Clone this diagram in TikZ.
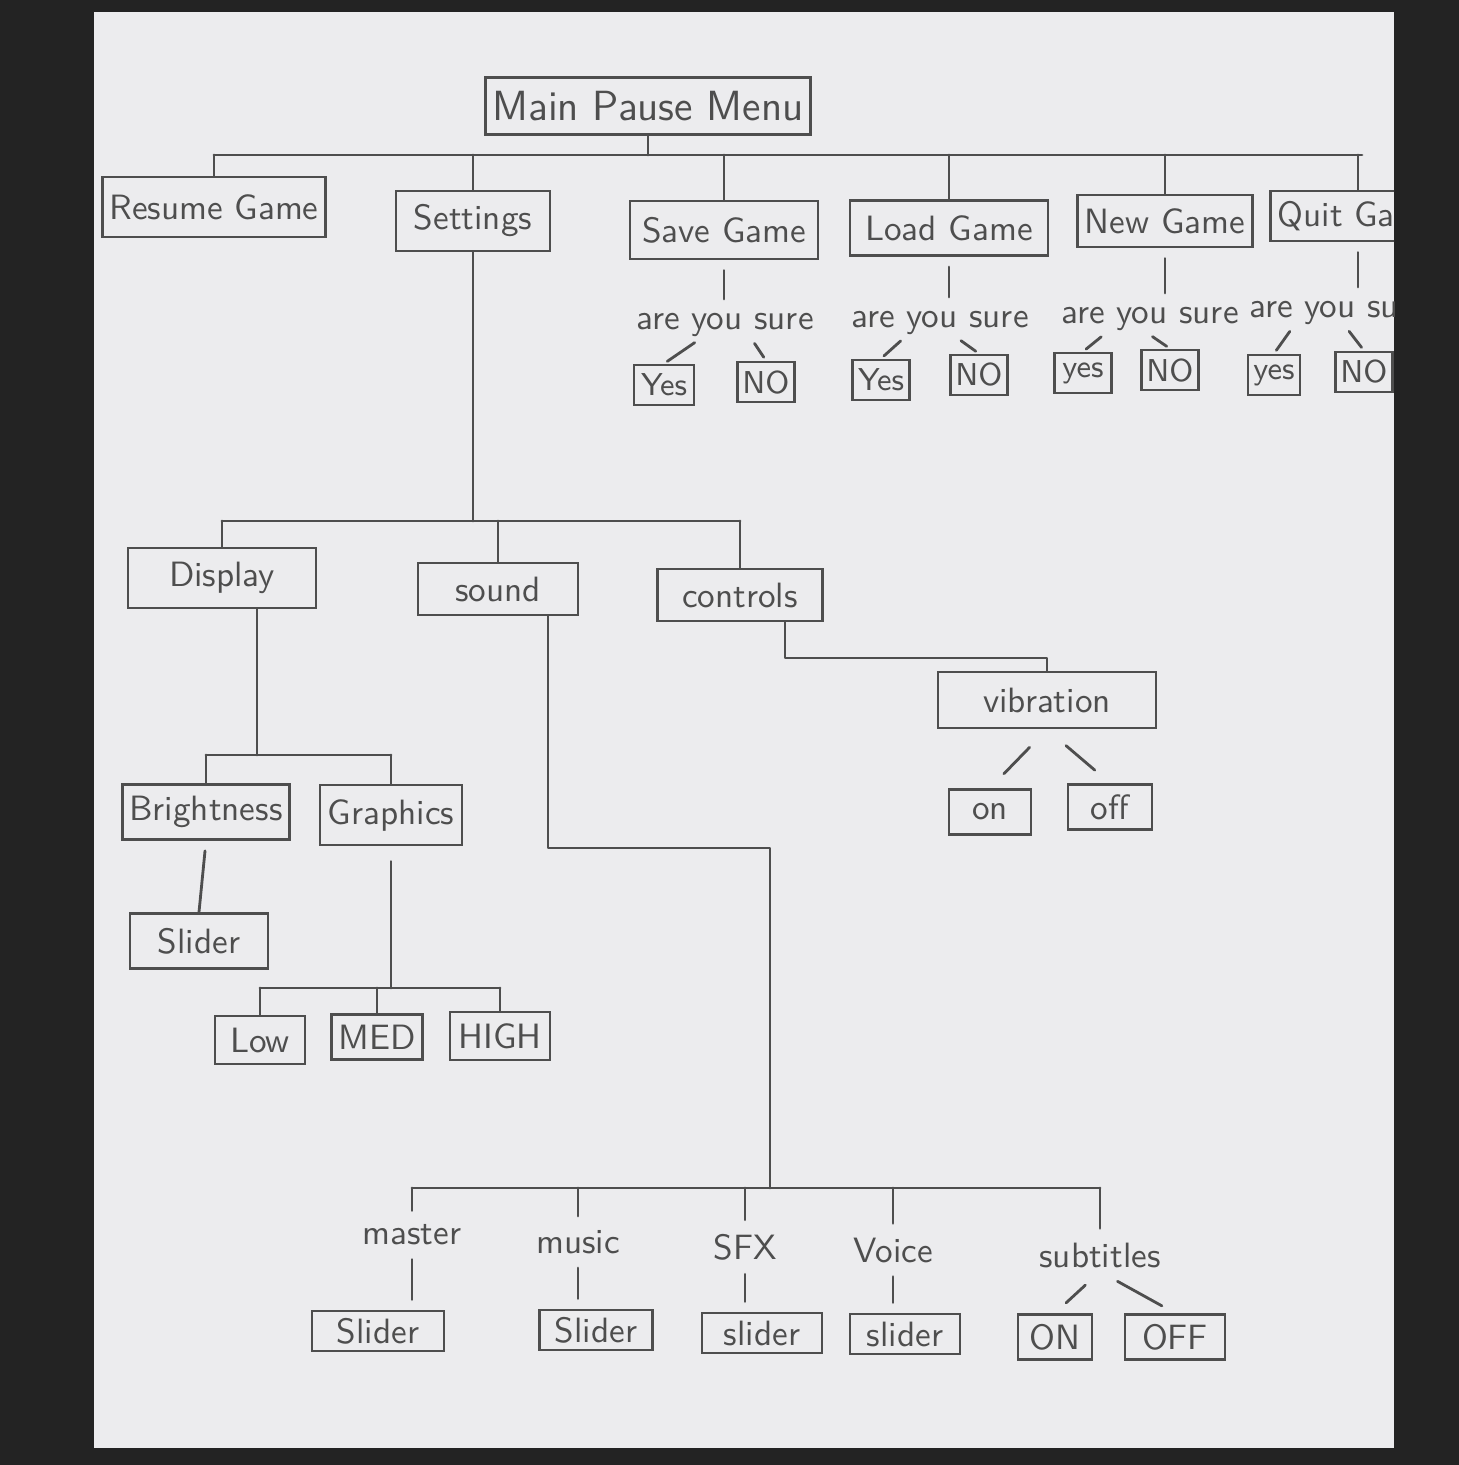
\documentclass[tikz,border=0pt]{standalone}
\usepackage{tikz}
\usetikzlibrary{calc}
\definecolor{pencil}{HTML}{4E4E4E}
\definecolor{paper}{HTML}{ECECEE}
\definecolor{desk}{HTML}{232323}

\begin{document}
\begin{tikzpicture}[
    x=0.01cm, y=-0.01cm,
    menuwire/.style={draw=pencil, line width=0.8pt, line cap=round, line join=round},
    wiregap/.style={shorten <=0.1cm, shorten >=0.1cm},
    slashgap/.style={shorten <=0.03cm, shorten >=0.04cm},
    menubox/.style={draw=pencil, line width=0.8pt, text=pencil, inner sep=2pt, font=\sffamily\fontsize{10}{12}\selectfont},
    confirmbox/.style={menubox, inner sep=1.5pt, minimum height=0.4cm, font=\sffamily\fontsize{9}{11}\selectfont},
    menulabel/.style={text=pencil, inner sep=1pt, font=\sffamily\fontsize{10}{12}\selectfont}
]
  \fill[desk] (0,0) rectangle (1459,1465);
  \fill[paper] (94,12) rectangle (1394,1448);
  \begin{scope}
  \clip (94,12) rectangle (1394,1448);

  % top level
  \node[menubox, font=\sffamily\fontsize{12}{14}\selectfont, minimum width=3.15cm, minimum height=0.57cm] (mainmenu) at (648,106) {Main Pause Menu};
  \node[menubox, minimum width=2.12cm, minimum height=0.6cm] (resume) at (214,207) {Resume Game};
  \node[menubox, minimum width=1.54cm, minimum height=0.6cm] (settings) at (473,221) {Settings};
  \node[menubox, minimum width=1.88cm, minimum height=0.58cm] (savegame) at (724,230) {Save Game};
  \node[menubox, minimum width=1.98cm, minimum height=0.55cm] (loadgame) at (949,228) {Load Game};
  \node[menubox, minimum width=1.70cm, minimum height=0.52cm] (newgame) at (1165,221) {New Game};
  \node[menubox, minimum width=1.50cm, minimum height=0.5cm] (quitgame) at (1358,216) {Quit Game};

  \coordinate (topbus) at (0,155);
  \coordinate (topbusend) at (1362,155);
  \draw[menuwire] (mainmenu.south) -- (mainmenu.south |- topbus);
  \draw[menuwire] (resume.north |- topbus) -- (topbusend);
  \draw[menuwire] (resume.north) -- (resume.north |- topbus);
  \draw[menuwire] (settings.north) -- (settings.north |- topbus);
  \draw[menuwire] (savegame.north) -- (savegame.north |- topbus);
  \draw[menuwire] (loadgame.north) -- (loadgame.north |- topbus);
  \draw[menuwire] (newgame.north) -- (newgame.north |- topbus);
  \draw[menuwire] (quitgame.north) -- (quitgame.north |- topbus);

  % are you sure
  \node[menulabel] (savesure) at (725,325) {are you sure};
  \node[confirmbox, minimum width=0.6cm] (saveyes) at (664,385) {Yes};
  \node[confirmbox, minimum width=0.53cm] (saveno) at (766,382) {NO};
  \node[menulabel] (loadsure) at (940,323) {are you sure};
  \node[confirmbox, minimum width=0.57cm] (loadyes) at (881,380) {Yes};
  \node[confirmbox, minimum width=0.48cm] (loadno) at (979,375) {NO};
  \node[menulabel] (newsure) at (1150,319) {are you sure};
  \node[confirmbox, minimum width=0.57cm] (newyes) at (1083,373) {yes};
  \node[confirmbox, minimum width=0.55cm] (newno) at (1170,370) {NO};
  \node[menulabel] (quitsure) at (1338,313) {are you sure};
  \node[confirmbox, minimum width=0.52cm] (quityes) at (1274,375) {yes};
  \node[confirmbox, minimum width=0.56cm] (quitno) at (1364,372) {NO};

  \draw[menuwire, wiregap] (savegame.south) -- (savegame.south |- savesure.north);
  \draw[menuwire, wiregap] (loadgame.south) -- (loadgame.south |- loadsure.north);
  \draw[menuwire, wiregap] (newgame.south) -- (newgame.south |- newsure.north);
  \draw[menuwire, wiregap] (quitgame.south) -- (quitgame.south |- quitsure.north);
  \draw[menuwire, slashgap] ($(savesure.south west)!0.35!(savesure.south east)$) -- (saveyes.north);
  \draw[menuwire, slashgap] ($(savesure.south west)!0.65!(savesure.south east)$) -- (saveno.north);
  \draw[menuwire, slashgap] ($(loadsure.south west)!0.3!(loadsure.south east)$) -- (loadyes.north);
  \draw[menuwire, slashgap] ($(loadsure.south west)!0.6!(loadsure.south east)$) -- (loadno.north);
  \draw[menuwire, slashgap] ($(newsure.south west)!0.25!(newsure.south east)$) -- (newyes.north);
  \draw[menuwire, slashgap] ($(newsure.south west)!0.5!(newsure.south east)$) -- (newno.north);
  \draw[menuwire, slashgap] ($(quitsure.south west)!0.25!(quitsure.south east)$) -- (quityes.north);
  \draw[menuwire, slashgap] ($(quitsure.south west)!0.55!(quitsure.south east)$) -- (quitno.north);

  % settings
  \node[menubox, minimum width=1.88cm, minimum height=0.6cm] (display) at (222,578) {Display};
  \node[menubox, minimum width=1.6cm, minimum height=0.52cm] (sound) at (498,589) {sound};
  \node[menubox, minimum width=1.65cm, minimum height=0.52cm] (controls) at (740,595) {controls};

  \coordinate (setbus) at (0,521);
  \draw[menuwire] (settings.south) -- (settings.south |- setbus);
  \draw[menuwire] (display.north |- setbus) -- (controls.north |- setbus);
  \draw[menuwire] (display.north) -- (display.north |- setbus);
  \draw[menuwire] (sound.north) -- (sound.north |- setbus);
  \draw[menuwire] (controls.north) -- (controls.north |- setbus);

  % controls
  \node[menubox, minimum width=2.18cm, minimum height=0.56cm] (vibration) at (1047,700) {vibration};
  \node[menubox, minimum width=0.82cm, minimum height=0.45cm] (vibon) at (990,812) {on};
  \node[menubox, minimum width=0.84cm, minimum height=0.45cm] (viboff) at (1110,807) {off};

  \coordinate (ctrlout) at ($(controls.south)+(45,0)$);
  \coordinate (ctrlbend) at (0,658);
  \draw[menuwire] (ctrlout) |- (ctrlbend -| vibration.north) -- (vibration.north);
  \draw[menuwire, shorten <=0.25cm, shorten >=0.2cm] (vibration.south) -- (vibon.north);
  \draw[menuwire, shorten <=0.25cm, shorten >=0.2cm] (vibration.south) -- (viboff.north);

  % display
  \node[menubox, minimum width=1.63cm, minimum height=0.55cm] (brightness) at (206,812) {Brightness};
  \node[menubox, minimum width=1.42cm, minimum height=0.6cm] (graphics) at (391,815) {Graphics};
  \node[menubox, minimum width=1.38cm, minimum height=0.55cm] (brightslider) at (199,941) {Slider};

  \coordinate (dispout) at ($(display.south)+(35,0)$);
  \coordinate (dispbus) at (0,755);
  \draw[menuwire] (dispout) -- (dispout |- dispbus);
  \draw[menuwire] (brightness.north |- dispbus) -- (graphics.north |- dispbus);
  \draw[menuwire] (brightness.north) -- (brightness.north |- dispbus);
  \draw[menuwire] (graphics.north) -- (graphics.north |- dispbus);
  \draw[menuwire, shorten <=0.1cm] (brightness.south) -- (brightslider.north);

  \node[menubox, minimum width=0.9cm, minimum height=0.48cm] (gfxlow) at (260,1040) {Low};
  \node[menubox, minimum width=0.91cm, minimum height=0.45cm] (gfxmed) at (377,1037) {MED};
  \node[menubox, minimum width=1.0cm, minimum height=0.48cm] (gfxhigh) at (500,1036) {HIGH};

  \coordinate (gfxbus) at (0,988);
  \draw[menuwire, shorten <=0.15cm] (graphics.south) -- (graphics.south |- gfxbus);
  \draw[menuwire] (gfxlow.north |- gfxbus) -- (gfxhigh.north |- gfxbus);
  \draw[menuwire] (gfxlow.north) -- (gfxlow.north |- gfxbus);
  \draw[menuwire] (gfxmed.north) -- (gfxmed.north |- gfxbus);
  \draw[menuwire] (gfxhigh.north) -- (gfxhigh.north |- gfxbus);

  % sound
  \node[menulabel] (master) at (412,1235) {master};
  \node[menulabel] (music) at (578,1242) {music};
  \node[menulabel] (sfx) at (745,1247) {SFX};
  \node[menulabel] (voice) at (893,1250) {Voice};
  \node[menulabel] (subtitles) at (1100,1255) {subtitles};

  \coordinate (sndout) at ($(sound.south)+(50,0)$);
  \coordinate (sndbend) at (770,848);
  \coordinate (sndbus) at (0,1188);
  \draw[menuwire] (sndout) |- (sndbend) -- (sndbend |- sndbus);
  \draw[menuwire] (master.north |- sndbus) -- (subtitles.north |- sndbus);
  \draw[menuwire, shorten >=0.1cm] (master.north |- sndbus) -- (master.north);
  \draw[menuwire, shorten >=0.1cm] (music.north |- sndbus) -- (music.north);
  \draw[menuwire, shorten >=0.1cm] (sfx.north |- sndbus) -- (sfx.north);
  \draw[menuwire, shorten >=0.1cm] (voice.north |- sndbus) -- (voice.north);
  \draw[menuwire, shorten >=0.1cm] (subtitles.north |- sndbus) -- (subtitles.north);

  \node[menubox, minimum width=1.32cm, minimum height=0.4cm] (masterslider) at (378,1331) {Slider};
  \node[menubox, minimum width=1.13cm, minimum height=0.4cm] (musicslider) at (596,1330) {Slider};
  \node[menubox, minimum width=1.2cm, minimum height=0.4cm] (sfxslider) at (762,1333) {slider};
  \node[menubox, minimum width=1.1cm, minimum height=0.4cm] (voiceslider) at (905,1334) {slider};
  \node[menubox, minimum width=0.74cm, minimum height=0.45cm] (subon) at (1055,1337) {ON};
  \node[menubox, minimum width=1.0cm, minimum height=0.45cm] (suboff) at (1175,1337) {OFF};

  \draw[menuwire, wiregap] (master.south) -- (master.south |- masterslider.north);
  \draw[menuwire, wiregap] (music.south) -- (music.south |- musicslider.north);
  \draw[menuwire, wiregap] (sfx.south) -- (sfx.south |- sfxslider.north);
  \draw[menuwire, wiregap] (voice.south) -- (voice.south |- voiceslider.north);
  \draw[menuwire, shorten <=0.2cm, shorten >=0.15cm] (subtitles.south) -- (subon.north);
  \draw[menuwire, shorten <=0.2cm, shorten >=0.15cm] (subtitles.south) -- (suboff.north);
  \end{scope}
\end{tikzpicture}
\end{document}
